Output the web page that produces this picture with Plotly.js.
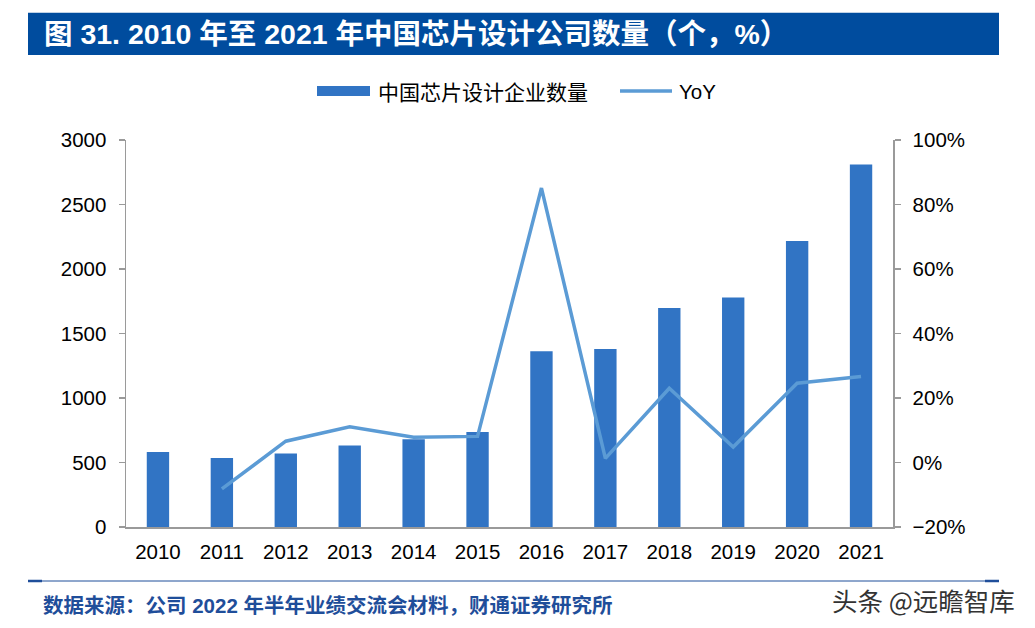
<!DOCTYPE html>
<html>
<head>
<meta charset="utf-8">
<script src="https://cdn.plot.ly/plotly-3.0.1.min.js"></script>
<style>
  html, body { margin: 0; padding: 0; background: #fff; }
  #chart { width: 1035px; height: 628px; }
</style>
</head>
<body>
<div id="chart"></div>
<script>
// ---- data ----
const years = ['2010','2011','2012','2013','2014','2015','2016','2017','2018','2019','2020','2021'];
const companyCount = [582, 534, 569, 632, 681, 736, 1362, 1380, 1698, 1780, 2218, 2810];
const yoyPct = [null, -8.2, 6.6, 11.1, 7.8, 8.1, 85.1, 1.3, 23.0, 4.8, 24.6, 26.7];
const seriesBarName = '中国芯片设计企业数量';
const seriesLineName = 'YoY';
const titleText = '图 31. 2010 年至 2021 年中国芯片设计公司数量（个，%）';
const sourceText = '数据来源：公司 2022 年半年业绩交流会材料，财通证券研究所';
const watermarkText = '头条 @远瞻智库';

// ---- helpers: pixel -> paper (margins are zero) ----
const W = 1035, H = 628;
const px = x => x / W;
const py = y => 1 - y / H;

const barColor = '#3174C4';
const lineColor = '#5B9BD5';
const axisGray = '#9a9a9a';
const tickFont = { family: 'Liberation Sans, Arial, sans-serif', size: 20.5, color: '#000' };

const traces = [
  {
    type: 'bar', name: seriesBarName, x: years, y: companyCount,
    marker: { color: barColor, line: { width: 0 } }, width: 0.35,
    yaxis: 'y', hoverinfo: 'x+y'
  },
  {
    type: 'scatter', mode: 'lines', name: seriesLineName, x: years, y: yoyPct,
    line: { color: lineColor, width: 3.5 }, yaxis: 'y2', connectgaps: false
  }
];

const layout = {
  width: W, height: H,
  margin: { l: 0, r: 0, t: 0, b: 0 },
  paper_bgcolor: '#fff', plot_bgcolor: '#fff',
  showlegend: false,
  xaxis: {
    domain: [px(126), px(893)],
    type: 'category',
    showline: true, linecolor: axisGray, linewidth: 1.5,
    ticks: '', showgrid: false, zeroline: false,
    tickfont: tickFont, ticklabelstandoff: 6
  },
  yaxis: {
    domain: [1 - 527 / H, 1 - 140 / H],
    range: [0, 3000], dtick: 500, tick0: 0,
    showline: true, linecolor: axisGray, linewidth: 1.5,
    ticks: 'outside', ticklen: 6, tickcolor: axisGray, tickwidth: 1.5,
    showgrid: false, zeroline: false,
    tickfont: tickFont, ticklabelstandoff: 8
  },
  yaxis2: {
    overlaying: 'y', side: 'right', anchor: 'x',
    range: [-20, 100], dtick: 20, tick0: -20, ticksuffix: '%',
    showline: true, linecolor: axisGray, linewidth: 1.5,
    ticks: 'outside', ticklen: 6, tickcolor: axisGray, tickwidth: 1.5,
    showgrid: false, zeroline: false,
    tickfont: tickFont, ticklabelstandoff: 8
  },
  shapes: [
    // title bar
    { type: 'rect', xref: 'paper', yref: 'paper', x0: px(28), x1: px(999), y0: py(55), y1: py(12.7),
      fillcolor: '#004C9E', line: { width: 0 }, layer: 'below' },
    // legend swatches
    { type: 'rect', xref: 'paper', yref: 'paper', x0: px(317), x1: px(370), y0: py(96), y1: py(86),
      fillcolor: barColor, line: { width: 0 } },
    { type: 'line', xref: 'paper', yref: 'paper', x0: px(620), x1: px(672), y0: py(91), y1: py(91),
      line: { color: lineColor, width: 3.5 } },
    // bottom rule
    { type: 'line', xref: 'paper', yref: 'paper', x0: px(28), x1: px(999), y0: py(581), y1: py(581),
      line: { color: '#1F4E9A', width: 1 } },
    { type: 'line', xref: 'paper', yref: 'paper', x0: px(28), x1: px(42), y0: py(581), y1: py(581),
      line: { color: '#1F4E9A', width: 2.5 } },
    { type: 'line', xref: 'paper', yref: 'paper', x0: px(985), x1: px(999), y0: py(581), y1: py(581),
      line: { color: '#1F4E9A', width: 2.5 } }
  ],
  annotations: [
    { text: '<b>' + titleText + '</b>', xref: 'paper', yref: 'paper', x: px(42), y: py(34),
      xanchor: 'left', yanchor: 'middle', showarrow: false,
      font: { family: 'Liberation Sans, Noto Sans CJK SC, sans-serif', size: 28.5, color: '#fff' } },
    { text: seriesBarName, xref: 'paper', yref: 'paper', x: px(376), y: py(91),
      xanchor: 'left', yanchor: 'middle', showarrow: false,
      font: { family: 'Noto Sans CJK SC, sans-serif', size: 21, color: '#000' } },
    { text: seriesLineName, xref: 'paper', yref: 'paper', x: px(677), y: py(91),
      xanchor: 'left', yanchor: 'middle', showarrow: false,
      font: { family: 'Liberation Sans, Arial, sans-serif', size: 20.5, color: '#000' } },
    { text: '<b>' + sourceText + '</b>', xref: 'paper', yref: 'paper', x: px(41), y: py(605),
      xanchor: 'left', yanchor: 'middle', showarrow: false,
      font: { family: 'Liberation Sans, Noto Sans CJK SC, sans-serif', size: 20.5, color: '#1F4E9A' } },
    { text: watermarkText, xref: 'paper', yref: 'paper', x: px(1017), y: py(599),
      xanchor: 'right', yanchor: 'middle', showarrow: false,
      font: { family: 'Noto Sans CJK SC, sans-serif', size: 25.5, color: '#333' } }
  ]
};

Plotly.newPlot('chart', traces, layout, { displayModeBar: false, staticPlot: true });
</script>
</body>
</html>
